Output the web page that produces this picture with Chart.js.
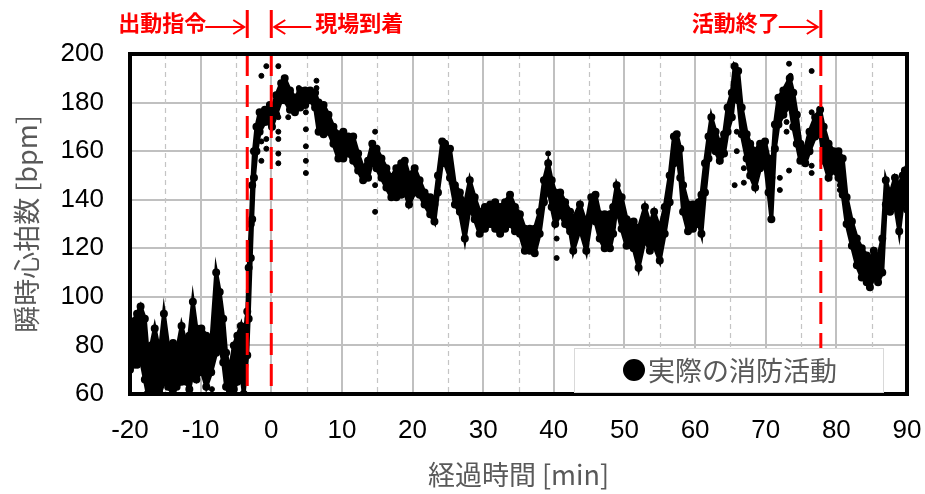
<!DOCTYPE html>
<html>
<head>
<meta charset="utf-8">
<title>瞬時心拍数</title>
<script src="https://cdn.jsdelivr.net/npm/chart.js@4.4.1/dist/chart.umd.min.js"></script>
<style>
  body { margin: 0; background: #fff; }
  canvas { display: block; }
</style>
</head>
<body>
<canvas id="hrChart" width="925" height="494"></canvas>
<script>
// elapsed time [min] and the upper / lower edge of the heart-rate band [bpm]
const minutes = [-20, -19.5, -19, -18.5, -17.9, -17.5, -17, -16.5, -15.8, -15.2, -14.6, -13.9, -13.4, -12.7, -12, -11.6, -11.1, -10.6, -9.9, -9.2,
  -8.5, -7.8, -7.3, -6.8, -6.4, -5.9, -5.3, -4.8, -4.3, -3.9, -3.4, -3.2, -2.9, -2.7, -2.45, -2.1, -1.65, -0.9, -0.2, 0.1,
  0.7, 1.4, 1.9, 2.65, 3.35, 4.1, 4.8, 5.5, 6.2, 6.7, 7.4, 8.1, 8.8, 9.5, 10.2, 10.9, 11.6, 12.3, 13, 13.7,
  14.3, 14.9, 15.6, 16.3, 17, 17.7, 18.4, 18.9, 19.5, 20.3, 21, 21.7, 22.5, 23.1, 23.6, 24.2, 24.6, 25.3, 26, 26.7,
  27.4, 28.1, 28.8, 29.5, 30.25, 31, 31.7, 32.4, 33.1, 33.8, 34.5, 35.2, 35.9, 36.6, 37.3, 38, 38.6, 39.2, 39.7, 40.2,
  40.9, 41.6, 42.3, 42.75, 43.7, 44.6, 45.3, 45.9, 46.5, 47.2, 47.95, 48.4, 48.9, 49.6, 50.3, 51.3, 52, 52.9, 53.6, 54.2,
  55, 55.7, 56.4, 57, 57.4, 57.9, 58.3, 59, 59.7, 60.5, 60.9, 61.4, 61.9, 62.3, 62.9, 63.5, 64.1, 64.6, 65.2, 65.6,
  66.1, 66.6, 67.3, 67.8, 68.5, 69.2, 69.9, 70.4, 70.8, 71.3, 71.8, 72.5, 73.4, 73.9, 74.4, 74.9, 75.6, 76.2, 77, 77.7,
  78.2, 78.9, 79.6, 80.3, 80.9, 81.45, 82.2, 82.9, 83.6, 84.3, 84.75, 85.3, 85.9, 86.5, 87, 87.6, 88.3, 88.9, 89.4, 89.7, 90];
const hrHigh = [87, 90, 93, 96, 91, 77, 80, 87, 77, 93, 80, 81, 77, 88, 80, 84, 98, 87, 87, 84,
  81, 110, 102, 91, 77, 69, 80, 84, 88, 81, 94, 112, 130, 146, 160, 170, 176, 177, 179, 177,
  183, 188, 190, 185, 182, 185, 185, 185, 184, 180, 179, 175, 170, 167, 168, 166, 166, 159, 153, 156,
  163, 161, 157, 153, 149, 153, 155, 156, 150, 153, 148, 143, 141, 138, 150, 164, 163, 161, 146, 143,
  138, 148, 141, 135, 137, 138, 139, 137, 139, 142, 137, 134, 128, 128, 128, 135, 148, 155, 148, 143,
  143, 139, 135, 132, 138, 130, 141, 142, 134, 134, 134, 137, 146, 141, 132, 131, 128, 137, 130, 135,
  128, 137, 150, 166, 167, 161, 146, 138, 138, 139, 142, 155, 166, 174, 168, 163, 167, 178, 184, 195,
  193, 178, 167, 163, 160, 163, 164, 157, 149, 171, 182, 185, 190, 184, 175, 163, 161, 168, 174, 177,
  170, 163, 160, 160, 157, 141, 131, 124, 120, 117, 115, 119, 116, 124, 148, 142, 149, 146, 150, 152, 148];
const hrLow = [70, 72, 72, 75, 66, 60, 60, 60, 60, 65, 63, 60, 63, 65, 65, 62, 69, 66, 70, 63,
  69, 77, 80, 73, 63, 60, 62, 65, 70, 60, 76, 91, 116, 132, 149, 160, 168, 172, 172, 170,
  175, 181, 181, 177, 176, 178, 179, 181, 178, 168, 167, 168, 163, 157, 157, 159, 156, 152, 148, 149,
  156, 153, 149, 145, 141, 141, 142, 143, 138, 143, 142, 138, 134, 131, 143, 156, 155, 149, 138, 135,
  124, 137, 132, 126, 128, 130, 128, 126, 128, 130, 127, 126, 119, 119, 118, 126, 139, 145, 137, 130,
  134, 130, 127, 119, 128, 119, 132, 131, 124, 120, 120, 126, 137, 128, 121, 120, 112, 124, 119, 121,
  115, 126, 139, 155, 160, 149, 135, 127, 128, 130, 126, 143, 157, 163, 160, 156, 159, 168, 174, 185,
  181, 167, 157, 150, 145, 153, 155, 143, 132, 161, 171, 175, 179, 170, 163, 156, 155, 160, 166, 168,
  156, 149, 152, 149, 142, 130, 121, 113, 108, 106, 104, 108, 106, 110, 138, 135, 138, 127, 139, 140, 136];

// isolated samples lying outside the band
const strayMinutes = [-1.4, -1.4, -1.4, -0.7, -0.7, -0.7, 1.0, 1.0, 1.0, 1.0, 1.0, 1.0, 2.4, 3.9, 4.9, 4.9, 4.9, 4.9, 4.9, 6.4,
  6.4, 14.7, 14.7, 14.7, 39.2, 40.4, 40.4, 65.6, 65.9, 65.9, 66.9, 66.9, 70.7, 72.0, 72.0, 72.95, 72.95, 73.3, 73.3, 73.5,
  76.5, 76.5, 76.5, 76.5, 80.5, 80.5, -8.4];
const strayHr = [191, 164, 156, 195, 165, 161, 195, 174, 168, 165, 159, 155, 174, 186, 176, 169, 162, 156, 151, 189,
  186, 168, 146, 135, 159, 124, 116, 146, 168, 160, 153, 147, 132, 149, 144, 172, 168, 196, 152, 191,
  193, 176, 154, 151, 146, 144, 62];

const xTicks = [-20, -10, 0, 10, 20, 30, 40, 50, 60, 70, 80, 90];
const yTicks = [60, 80, 100, 120, 140, 160, 180, 200];

const eventMinutes = [-3.4, 0, 77.8];
const eventLabels = ['出動指令', '現場到着', '活動終了'];
const eventArrowLeft = [false, true, false]; // arrow points back towards the line from the right

const legendLabel = '実際の消防活動';

const upperPts = minutes.map((t, i) => ({ x: t, y: hrHigh[i] }));
const lowerPts = minutes.map((t, i) => ({ x: t, y: hrLow[i] }));
const strayPts = strayMinutes.map((t, i) => ({ x: t, y: strayHr[i] }));

const RED = '#ff0000';
const JP = '"Noto Sans CJK JP", "Noto Sans", sans-serif';

function arrow(ctx, x1, x2, y) {
    // line from x1 to x2, head at x2
    const dir = x2 > x1 ? 1 : -1;
    ctx.beginPath();
    ctx.moveTo(x1, y);
    ctx.lineTo(x2, y);
    ctx.moveTo(x2 - dir * 11, y - 7);
    ctx.lineTo(x2, y);
    ctx.lineTo(x2 - dir * 11, y + 7);
    ctx.stroke();
}

const overlay = {
    id: 'overlay',
    beforeDatasetsDraw(chart) {
        const { ctx, chartArea: a, scales: { x } } = chart;
        ctx.save();
        ctx.strokeStyle = '#c4c4c4';
        ctx.lineWidth = 1.2;
        ctx.setLineDash([5, 4]);
        for (let i = 0; i < xTicks.length - 1; i++) {
            const px = Math.round(x.getPixelForValue((xTicks[i] + xTicks[i + 1]) / 2)) + 0.5;
            ctx.beginPath();
            ctx.moveTo(px, a.top);
            ctx.lineTo(px, a.bottom);
            ctx.stroke();
        }
        ctx.restore();
    },
    afterDatasetsDraw(chart) {
        const { ctx, chartArea: a, scales: { x } } = chart;
        ctx.save();

        // event lines
        ctx.strokeStyle = RED;
        ctx.lineWidth = 3;
        eventMinutes.forEach((t, i) => {
            const px = x.getPixelForValue(t);
            ctx.setLineDash([22, 9]);
            ctx.beginPath();
            ctx.moveTo(px, a.top);
            ctx.lineTo(px, a.bottom);
            ctx.stroke();
            ctx.setLineDash([]);
            ctx.beginPath();
            ctx.moveTo(px, 10);
            ctx.lineTo(px, 38);
            ctx.stroke();

            ctx.lineWidth = 2;
            ctx.fillStyle = RED;
            ctx.font = 'bold 22px ' + JP;
            ctx.textBaseline = 'middle';
            if (eventArrowLeft[i]) {
                arrow(ctx, px + 40, px + 3, 27);
                ctx.textAlign = 'left';
                ctx.fillText(eventLabels[i], px + 44, 23);
            } else {
                arrow(ctx, px - 42, px - 3, 27);
                ctx.textAlign = 'right';
                ctx.fillText(eventLabels[i], px - 41, 23);
            }
            ctx.lineWidth = 3;
        });

        // plot frame
        ctx.strokeStyle = '#000';
        ctx.lineWidth = 4;
        ctx.strokeRect(a.left, a.top, a.right - a.left, a.bottom - a.top);

        // legend box
        const r = a.right - 24, l = r - 309, t = a.bottom - 46, b = a.bottom - 2;
        ctx.fillStyle = '#fff';
        ctx.fillRect(l, t, r - l, b - t);
        ctx.strokeStyle = '#d9d9d9';
        ctx.lineWidth = 1;
        ctx.strokeRect(l + 0.5, t + 0.5, r - l, b - t);
        const cy = (t + b) / 2;
        ctx.fillStyle = '#000';
        ctx.beginPath();
        ctx.arc(l + 60, cy, 11, 0, Math.PI * 2);
        ctx.fill();
        ctx.fillStyle = '#595959';
        ctx.font = '27px ' + JP;
        ctx.textAlign = 'left';
        ctx.textBaseline = 'middle';
        ctx.fillText(legendLabel, l + 74, cy + 1);
        ctx.restore();
    }
};

const tickFont = { family: '"Liberation Sans", Arial, sans-serif', size: 26 };
const titleFont = { family: JP, size: 27 };

new Chart(document.getElementById('hrChart'), {
    type: 'scatter',
    data: {
        datasets: [
            {
                label: 'upper',
                data: upperPts,
                showLine: true,
                borderColor: '#000',
                backgroundColor: '#000',
                borderWidth: 4,
                pointRadius: 2,
                tension: 0,
                fill: false
            },
            {
                label: 'lower',
                data: lowerPts,
                showLine: true,
                borderColor: '#000',
                backgroundColor: '#000',
                borderWidth: 4,
                pointRadius: 2,
                tension: 0,
                fill: '-1'
            },
            {
                label: 'stray',
                data: strayPts,
                borderColor: '#000',
                backgroundColor: '#000',
                pointRadius: 2.5
            }
        ]
    },
    options: {
        responsive: false,
        animation: false,
        layout: { padding: { top: 54, right: 0, left: 0, bottom: 0 } },
        plugins: {
            legend: { display: false },
            tooltip: { enabled: false }
        },
        scales: {
            x: {
                type: 'linear',
                min: xTicks[0],
                max: xTicks[xTicks.length - 1],
                afterBuildTicks(scale) { scale.ticks = xTicks.map(v => ({ value: v })); },
                afterFit(scale) { scale.height = 100; scale.paddingRight = 18; },
                grid: { color: '#c0c0c0', lineWidth: 2, drawTicks: false },
                border: { display: false },
                ticks: { font: tickFont, color: '#000', padding: 21, maxRotation: 0 },
                title: { display: true, text: '経過時間 [min]', font: titleFont, color: '#595959', padding: { top: 0, bottom: 3 } }
            },
            y: {
                min: yTicks[0],
                max: yTicks[yTicks.length - 1],
                afterBuildTicks(scale) { scale.ticks = yTicks.map(v => ({ value: v })); },
                afterFit(scale) { scale.width = 130; },
                grid: { color: '#c0c0c0', lineWidth: 2, drawTicks: false },
                border: { display: false },
                ticks: { font: tickFont, color: '#000', padding: 26 },
                title: { display: true, text: '瞬時心拍数 [bpm]', font: titleFont, color: '#595959', padding: { top: 11, bottom: 0 } }
            }
        }
    },
    plugins: [overlay]
});
</script>
</body>
</html>
